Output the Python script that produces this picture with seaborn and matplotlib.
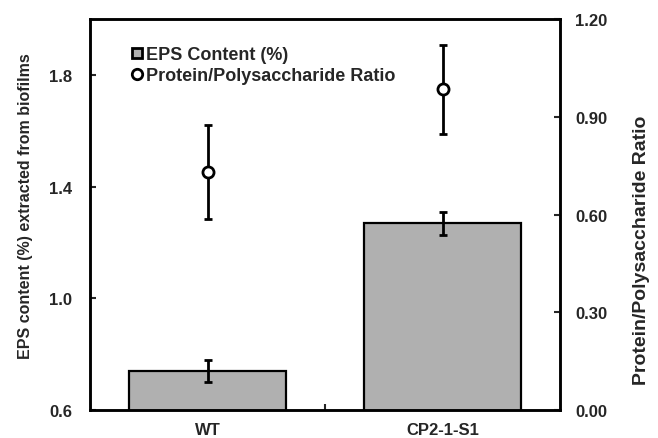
import matplotlib
matplotlib.use("Agg")
import matplotlib.pyplot as plt
import seaborn as sns
import pandas as pd
from matplotlib.lines import Line2D

categories = ["WT", "CP2-1-S1"]
eps_content = [0.74, 1.268]
eps_err = [0.04, 0.04]
ratio = [0.731, 0.985]
ratio_err = [0.145, 0.137]
left_ticks = [0.6, 1.0, 1.4, 1.8]
right_ticks = [0.00, 0.30, 0.60, 0.90, 1.20]

sns.set_theme(style="white")
plt.rcParams["font.family"] = ["Liberation Sans", "DejaVu Sans"]
plt.rcParams["font.weight"] = "bold"

df = pd.DataFrame({"cat": categories, "eps": eps_content})

fig = plt.figure(figsize=(6.58, 4.39), dpi=100)
ax = fig.add_axes([0.137, 0.064, 0.714, 0.890])

sns.barplot(data=df, x="cat", y="eps", ax=ax, color="#b0b0b0",
            edgecolor="black", linewidth=1.6, width=0.67, saturation=1)
ax.errorbar(range(len(categories)), eps_content, yerr=eps_err, fmt="none",
            ecolor="black", elinewidth=2, capsize=3, capthick=2, zorder=5)

ax.set_xlim(-0.5, 1.5)
ax.set_ylim(0.6, 2.0)
ax.set_yticks(left_ticks)
ax.set_yticklabels([f"{t:.1f}" for t in left_ticks], fontsize=12, fontweight="bold")
ax.set_xticks([0, 1])
ax.set_xticklabels(categories, fontsize=12, fontweight="bold")
ax.set_xticks([0.5], minor=True)
ax.tick_params(axis="x", which="major", length=0, pad=9)
ax.tick_params(axis="x", which="minor", direction="in", length=4, width=1.5, bottom=True)
ax.tick_params(axis="y", direction="in", length=4, width=1.5, left=True, pad=13)
ax.set_xlabel("")
ax.set_ylabel("EPS content (%) extracted from biofilms", fontsize=11.5, fontweight="bold")
ax.yaxis.set_label_coords(-0.121, 0.523)
for s in ax.spines.values():
    s.set_linewidth(1.8)
    s.set_color("black")

ax2 = ax.twinx()
ax2.errorbar(range(len(categories)), ratio, yerr=ratio_err, fmt="o",
             color="black", mfc="white", mec="black", mew=2, ms=8,
             elinewidth=2, capsize=3, capthick=2, zorder=5)
ax2.set_ylim(0, 1.2)
ax2.set_yticks(right_ticks)
ax2.set_yticklabels([f"{t:.2f}" for t in right_ticks], fontsize=12, fontweight="bold")
ax2.tick_params(axis="y", direction="in", length=4, width=1.5, right=True, pad=11)
ax2.set_ylabel("Protein/Polysaccharide Ratio", fontsize=14, fontweight="bold")
ax2.yaxis.set_label_coords(1.155, 0.412)
for s in ax2.spines.values():
    s.set_linewidth(1.8)
    s.set_color("black")

handles = [
    Line2D([], [], marker="s", linestyle="none", mfc="#b0b0b0", mec="black", mew=2, ms=7.5),
    Line2D([], [], marker="o", linestyle="none", mfc="white", mec="black", mew=2, ms=7.5),
]
ax2.legend(handles, ["EPS Content (%)", "Protein/Polysaccharide Ratio"],
           loc="upper left", bbox_to_anchor=(0.065, 0.95), frameon=False,
           prop={"size": 13, "weight": "bold"}, handletextpad=0.0,
           handlelength=1.0, labelspacing=0.25, borderaxespad=0)

fig.savefig("out.png", dpi=100)
